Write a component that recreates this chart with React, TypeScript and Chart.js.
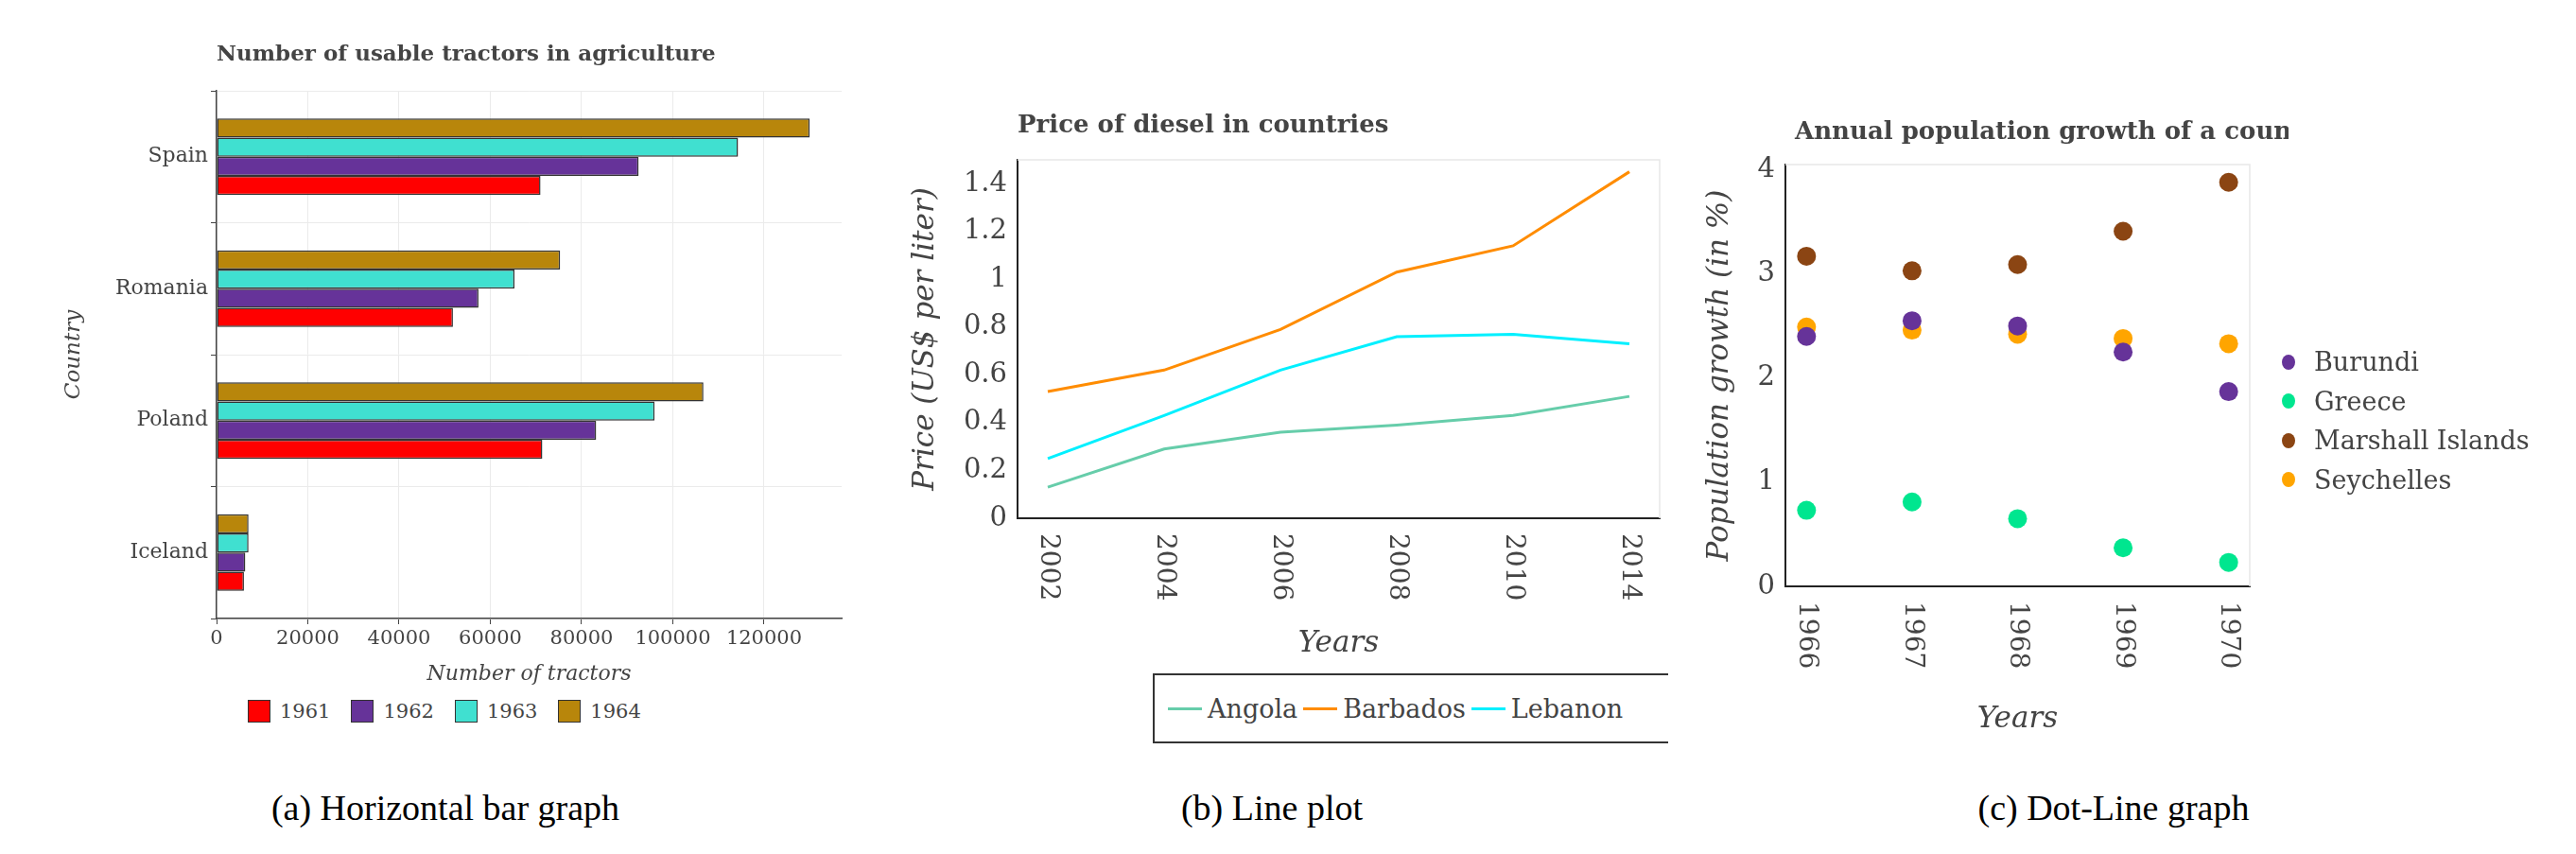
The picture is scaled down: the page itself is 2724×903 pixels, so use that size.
import React, { useEffect, useRef } from "react";
import { Chart, registerables } from "chart.js";
Chart.register(...registerables);

const FONT = "'DejaVu Serif', serif";
const TXT = "#444";

// (a)
const countries = ["Iceland", "Poland", "Romania", "Spain"];
const barYears = ["1961", "1962", "1963", "1964"];
const bar1961 = [6000, 71400, 51800, 71000];
const bar1962 = [6300, 83200, 57400, 92500];
const bar1963 = [7000, 96000, 65300, 114300];
const bar1964 = [7000, 106700, 75300, 130000];
const barColors = ["#ff0000", "#663399", "#40e0d0", "#b8860b"];
const barTicks = [0, 20000, 40000, 60000, 80000, 100000, 120000];

// (b)
const dieselYears = ["2002", "2004", "2006", "2008", "2010", "2014"];
const angola = [0.13, 0.29, 0.36, 0.39, 0.43, 0.51];
const barbados = [0.53, 0.62, 0.79, 1.03, 1.14, 1.45];
const lebanon = [0.25, 0.43, 0.62, 0.76, 0.77, 0.73];
const dieselNames = ["Angola", "Barbados", "Lebanon"];
const dieselColors = ["#66cdaa", "#ff8c00", "#00f0ff"];
const dieselTicks = [0, 0.2, 0.4, 0.6, 0.8, 1, 1.2, 1.4];

// (c)
const popYears = ["1966", "1967", "1968", "1969", "1970"];
const burundi = [2.4, 2.55, 2.5, 2.25, 1.87];
const greece = [0.73, 0.81, 0.65, 0.37, 0.23];
const marshall = [3.17, 3.03, 3.09, 3.41, 3.88];
const seychelles = [2.49, 2.46, 2.42, 2.38, 2.33];
const popNames = ["Burundi", "Greece", "Marshall Islands", "Seychelles"];
const popColors = ["#663399", "#00e68f", "#8b4513", "#ffa500"];
const popTicks = [0, 1, 2, 3, 4];

const titlePlugin = {
  id: "ttl",
  afterDraw(chart: any, _a: any, opts: any) {
    if (!opts || !opts.text) return;
    const ctx = chart.ctx;
    ctx.save();
    ctx.font = `bold ${opts.size}px ${FONT}`;
    ctx.fillStyle = TXT;
    ctx.textBaseline = "middle";
    ctx.textAlign = "left";
    ctx.fillText(opts.text, chart.chartArea.left + (opts.dx || 0), opts.y);
    ctx.restore();
  },
};

const rotLabels = {
  id: "rot",
  afterDraw(chart: any, _a: any, opts: any) {
    if (!opts || !opts.labels) return;
    const ctx = chart.ctx;
    const xs = chart.scales.x;
    const bottom = chart.chartArea.bottom;
    ctx.save();
    ctx.font = `${opts.size}px ${FONT}`;
    ctx.fillStyle = TXT;
    ctx.textBaseline = "middle";
    ctx.textAlign = "left";
    opts.labels.forEach((l: string, i: number) => {
      const x = xs.getPixelForValue(i);
      ctx.save();
      ctx.translate(x, bottom + 16);
      ctx.rotate(Math.PI / 2);
      ctx.fillText(l, 0, 0);
      ctx.restore();
    });
    if (opts.frame) {
      ctx.strokeStyle = "#e8e8e8";
      ctx.lineWidth = 1.5;
      const a = chart.chartArea;
      ctx.beginPath();
      ctx.moveTo(a.left, a.top);
      ctx.lineTo(a.right, a.top);
      ctx.lineTo(a.right, a.bottom);
      ctx.stroke();
    }
    ctx.restore();
  },
};

function useChart(ref: any, cfg: () => any) {
  useEffect(() => {
    const c = new Chart(ref.current, cfg());
    return () => c.destroy();
  }, []);
}

function BarChart() {
  const ref = useRef<HTMLCanvasElement>(null);
  const series = [bar1961, bar1962, bar1963, bar1964];
  useChart(ref, () => ({
    type: "bar",
    data: {
      labels: countries,
      datasets: [3, 2, 1, 0].map((i) => ({
        label: barYears[i],
        data: series[i],
        backgroundColor: barColors[i],
        borderColor: "#333",
        borderWidth: 1.5,
        borderSkipped: false,
        categoryPercentage: 0.58,
        barPercentage: 1,
      })),
    },
    plugins: [titlePlugin],
    options: {
      indexAxis: "y",
      animation: false,
      responsive: false,
      layout: { padding: { top: 76, right: 10, left: 40 } },
      plugins: {
        legend: { display: false },
        tooltip: { enabled: false },
        ttl: { text: "Number of usable tractors in agriculture", size: 23, y: 38 },
      },
      scales: {
        x: {
          min: 0,
          max: 137000,
          afterBuildTicks: (s: any) => { s.ticks = barTicks.map((v) => ({ value: v })); },
          ticks: { font: { family: FONT, size: 21 }, color: TXT, maxRotation: 0, callback: (v: any) => String(v) },
          grid: { color: "#ebebeb", tickColor: "#444", tickLength: 6 },
          border: { display: true, color: "#444", width: 1.5 },
          title: { display: true, text: "Number of tractors", font: { family: FONT, size: 22, style: "italic" }, color: TXT, padding: { top: 2 } },
          afterFit: (s: any) => { s.height = 76; },
        },
        y: {
          reverse: true,
          ticks: { font: { family: FONT, size: 22 }, color: TXT },
          grid: { color: "#ebebeb", tickColor: "#444", tickLength: 6 },
          border: { color: "#444", width: 1.5 },
          title: { display: true, text: "Country", font: { family: FONT, size: 23, style: "italic" }, color: TXT },
          afterFit: (s: any) => { s.width = 169; },
        },
      },
    },
  }));
  return <canvas ref={ref} width={880} height={710} style={{ position: "absolute", left: 20, top: 20, width: 880, height: 710 }} />;
}

function LineChart() {
  const ref = useRef<HTMLCanvasElement>(null);
  useChart(ref, () => ({
    type: "line",
    data: {
      datasets: [angola, barbados, lebanon].map((d, i) => ({
        label: dieselNames[i],
        data: d.map((v, j) => ({ x: j, y: v })),
        borderColor: dieselColors[i],
        borderWidth: 3,
        pointRadius: 0,
        tension: 0,
      })),
    },
    plugins: [titlePlugin, rotLabels],
    options: {
      animation: false,
      responsive: false,
      layout: { padding: { top: 79, right: 25 } },
      plugins: {
        legend: { display: false },
        tooltip: { enabled: false },
        ttl: { text: "Price of diesel in countries", size: 26, y: 43 },
        rot: { labels: dieselYears, size: 28, frame: true },
      },
      scales: {
        x: {
          type: "linear",
          min: -0.26,
          max: 5.26,
          afterBuildTicks: (s: any) => { s.ticks = dieselYears.map((_, i) => ({ value: i })); },
          ticks: { display: false },
          grid: { display: false, drawTicks: true },
          border: { color: "#222", width: 2 },
          title: { display: true, text: "Years", font: { family: FONT, size: 31, style: "italic" }, color: TXT, padding: { bottom: 0 } },
          afterFit: (s: any) => { s.height = 152; },
        },
        y: {
          min: 0,
          max: 1.5,
          afterBuildTicks: (s: any) => { s.ticks = dieselTicks.map((v) => ({ value: v })); },
          ticks: { font: { family: FONT, size: 29 }, color: TXT, callback: (v: any) => String(Math.round(v * 10) / 10) },
          grid: { display: false, drawTicks: true, tickLength: 8, tickColor: "#222" },
          border: { color: "#222", width: 2 },
          title: { display: true, text: "Price (US$ per liter)", font: { family: FONT, size: 31, style: "italic" }, color: TXT, padding: 0 },
          afterFit: (s: any) => { s.width = 116; },
        },
      },
    },
  }));
  return <canvas ref={ref} width={820} height={610} style={{ position: "absolute", left: 960, top: 90, width: 820, height: 610 }} />;
}

function DotChart() {
  const ref = useRef<HTMLCanvasElement>(null);
  useChart(ref, () => ({
    type: "scatter",
    data: {
      datasets: [burundi, greece, marshall, seychelles].map((d, i) => ({
        label: popNames[i],
        data: d.map((v, j) => ({ x: j, y: v })),
        backgroundColor: popColors[i],
        borderWidth: 0,
        pointRadius: 10,
      })),
    },
    plugins: [titlePlugin, rotLabels],
    options: {
      animation: false,
      responsive: false,
      layout: { padding: { top: 84, right: 41 } },
      plugins: {
        legend: { display: false },
        tooltip: { enabled: false },
        ttl: { text: "Annual population growth of a country", size: 26, y: 50, dx: 10 },
        rot: { labels: popYears, size: 28, frame: true },
      },
      scales: {
        x: {
          type: "linear",
          min: -0.2,
          max: 4.2,
          afterBuildTicks: (s: any) => { s.ticks = popYears.map((_, i) => ({ value: i })); },
          ticks: { display: false },
          grid: { display: false },
          border: { color: "#222", width: 2 },
          title: { display: true, text: "Years", font: { family: FONT, size: 31, style: "italic" }, color: TXT, padding: 0 },
          afterFit: (s: any) => { s.height = 160; },
        },
        y: {
          min: 0,
          max: 4.05,
          afterBuildTicks: (s: any) => { s.ticks = popTicks.map((v) => ({ value: v })); },
          ticks: { font: { family: FONT, size: 29 }, color: TXT },
          grid: { display: false, tickLength: 8, tickColor: "#222" },
          border: { color: "#222", width: 2 },
          title: { display: true, text: "Population growth (in %)", font: { family: FONT, size: 31, style: "italic" }, color: TXT, padding: 0 },
          afterFit: (s: any) => { s.width = 88; },
        },
      },
    },
  }));
  return <canvas ref={ref} width={620} height={690} style={{ position: "absolute", left: 1800, top: 90, width: 620, height: 690 }} />;
}

const cap: React.CSSProperties = { position: "absolute", top: 832, fontFamily: "'Liberation Serif', serif", fontSize: 38, color: "#000", transform: "translateX(-50%)", whiteSpace: "nowrap" };

export default function App() {
  return (
    <div style={{ position: "absolute", left: 0, top: 0, width: 2724, height: 903, background: "#fff" }}>
      <BarChart />
      <LineChart />
      <DotChart />
      <div style={{ position: "absolute", left: 262, top: 740, display: "flex", gap: 22, fontFamily: FONT, fontSize: 21, color: TXT }}>
        {barYears.map((y, i) => (
          <div key={y} style={{ display: "flex", alignItems: "center", gap: 10 }}>
            <span style={{ width: 22, height: 22, background: barColors[i], border: "1.5px solid #333", display: "inline-block" }} />
            {y}
          </div>
        ))}
      </div>
      <div style={{ position: "absolute", left: 1219, top: 712, width: 545, height: 74, boxSizing: "border-box", border: "2px solid #333", borderRight: "none", display: "flex", alignItems: "center", paddingLeft: 14, fontFamily: FONT, fontSize: 27, color: TXT }}>
        {dieselNames.map((n, i) => (
          <div key={n} style={{ display: "flex", alignItems: "center", marginRight: 6 }}>
            <span style={{ width: 36, height: 3, background: dieselColors[i], display: "inline-block", marginRight: 6 }} />
            {n}
          </div>
        ))}
      </div>
      <div style={{ position: "absolute", left: 2413, top: 362, fontFamily: FONT, fontSize: 27, color: TXT }}>
        {popNames.map((n, i) => (
          <div key={n} style={{ display: "flex", alignItems: "center", height: 41.5 }}>
            <span style={{ width: 14, height: 16, borderRadius: "50%", background: popColors[i], display: "inline-block", marginRight: 20 }} />
            {n}
          </div>
        ))}
      </div>
      <div style={{ ...cap, left: 471 }}>(a) Horizontal bar graph</div>
      <div style={{ ...cap, left: 1345 }}>(b) Line plot</div>
      <div style={{ ...cap, left: 2235 }}>(c) Dot-Line graph</div>
    </div>
  );
}
